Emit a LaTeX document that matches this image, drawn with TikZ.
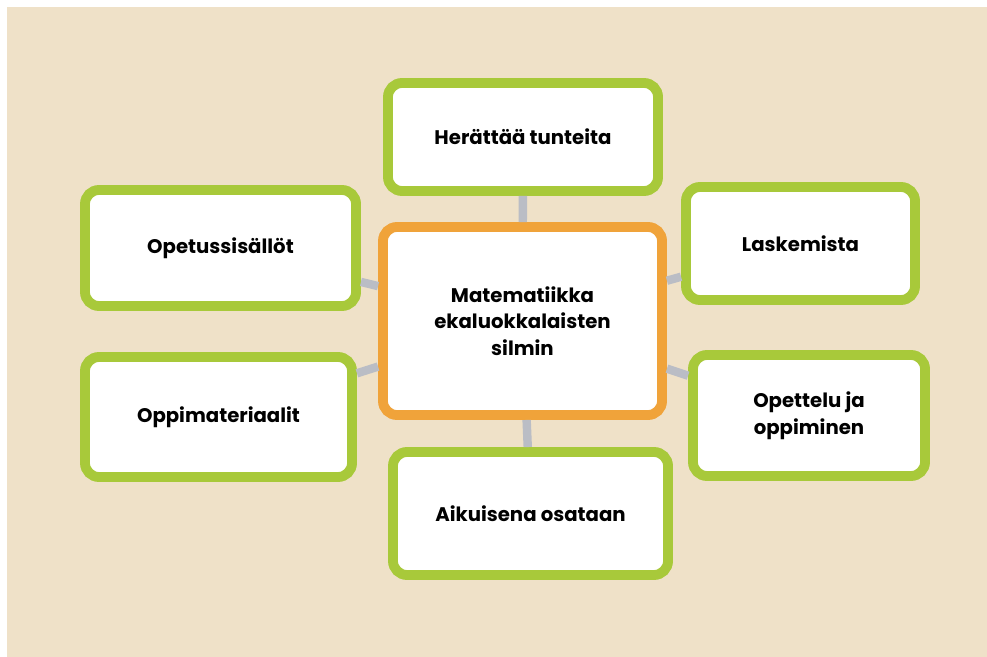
\documentclass[tikz,border=0pt]{standalone}
\usepackage{fontspec}
\setmainfont{Poppins}
\definecolor{beige}{RGB}{239,225,200}
\definecolor{lehti}{RGB}{168,201,58}
\definecolor{oranssi}{RGB}{240,163,58}
\definecolor{harmaa}{RGB}{186,189,197}
\tikzset{
  laatikko/.style={draw=lehti,line width=7pt,fill=white,rounded corners=10pt,
    align=center,font=\bfseries\fontsize{14}{19}\selectfont},
  yhteys/.style={draw=harmaa,line width=6pt}}
\begin{document}
\begin{tikzpicture}[x=0.025cm,y=-0.025cm]
\fill[white](0,0)rectangle(987,657);
\fill[beige](7,7)rectangle(987,657);
\node[laatikko,draw=oranssi,minimum width=6.975cm,minimum height=4.7cm](keski)at(522.5,321)
  {Matematiikka\\ekaluokkalaisten\\silmin};
\node[laatikko,minimum width=6.75cm,minimum height=2.7cm](herattaa)at(523,137){Herättää tunteita};
\node[laatikko,minimum width=6.775cm,minimum height=2.9cm](opetus)at(220.5,248){Opetussisällöt};
\node[laatikko,minimum width=5.725cm,minimum height=2.825cm](laske)at(800.5,243.5){Laskemista};
\node[laatikko,minimum width=6.675cm,minimum height=3cm](oppimat)at(218.5,417){Oppimateriaalit};
\node[laatikko,minimum width=5.8cm,minimum height=3.025cm](opettelu)at(809,415.5){Opettelu ja\\oppiminen};
\node[laatikko,minimum width=6.875cm,minimum height=3.075cm](aikuis)at(530.5,513.5){Aikuisena osataan};
\draw[yhteys]
  (keski)--(herattaa)
  (keski)--(opetus)
  (keski)--(laske)
  (keski)--(oppimat)
  (keski)--(opettelu)
  (keski)--(aikuis);
\end{tikzpicture}
\end{document}
